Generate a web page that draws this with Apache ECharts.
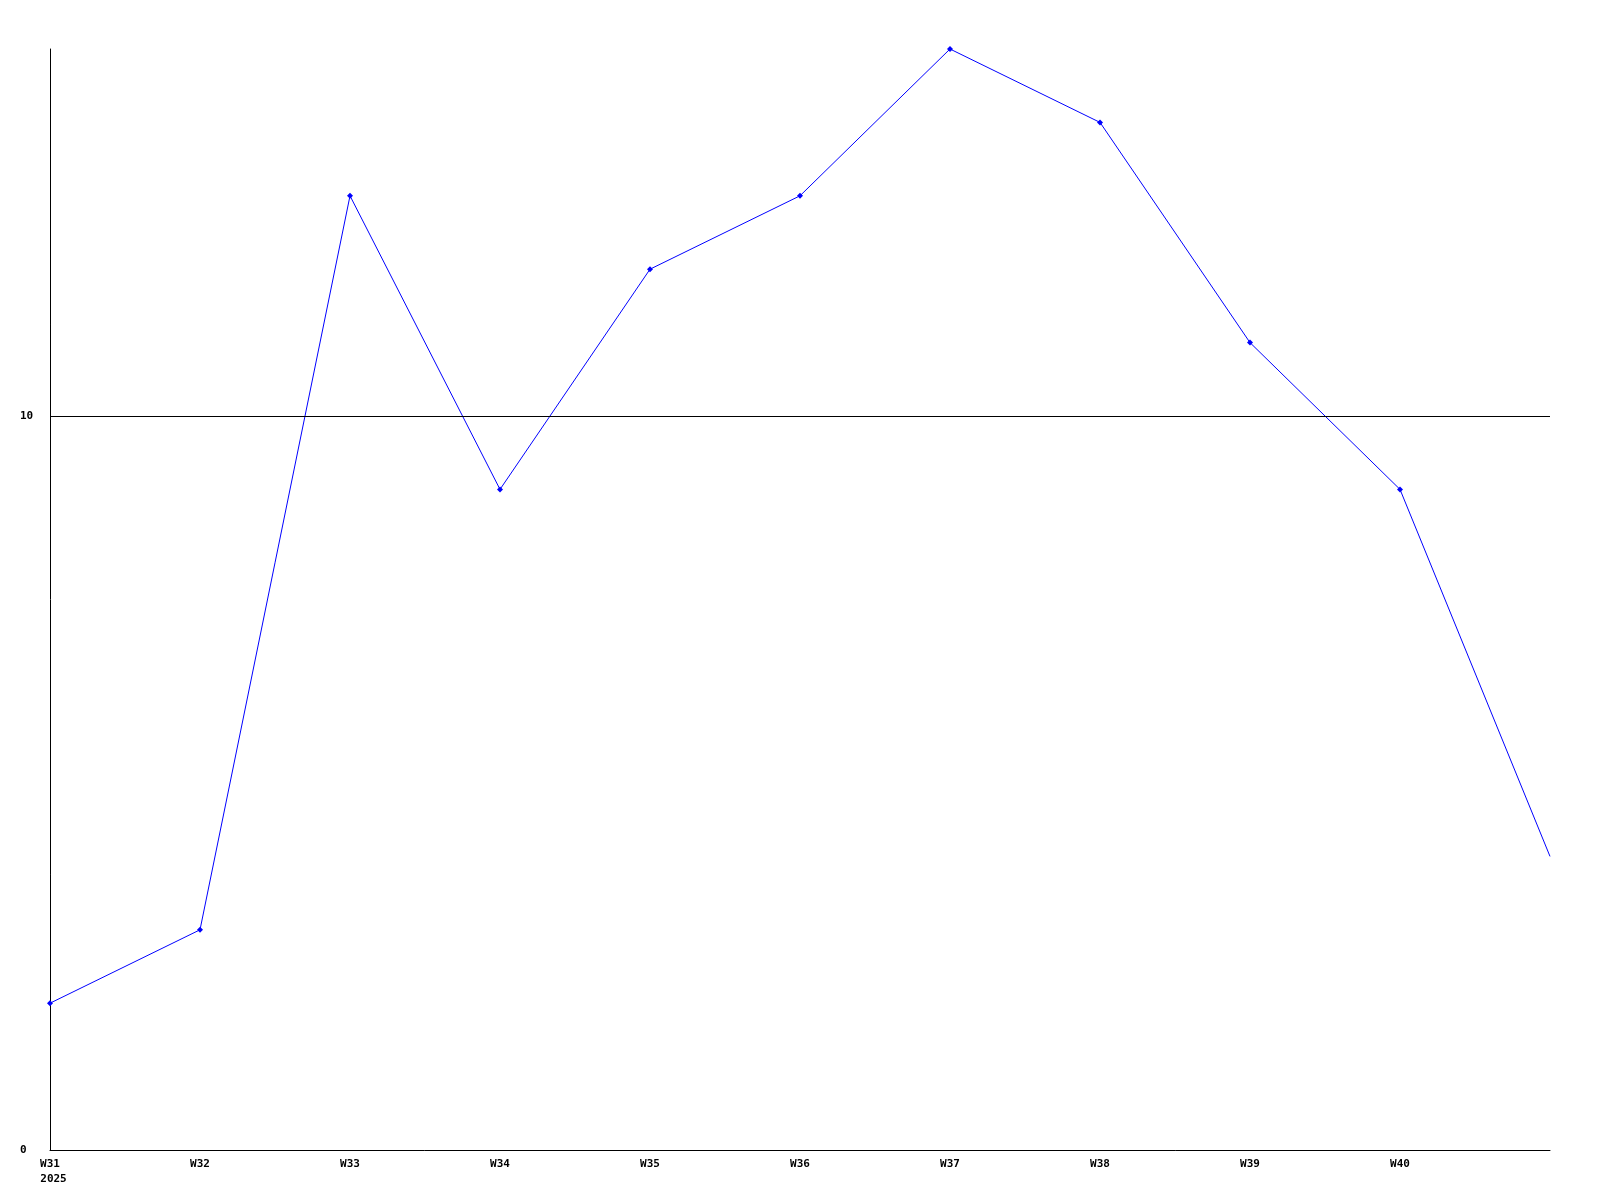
<!DOCTYPE html>
<html>
<head>
<meta charset="utf-8">
<script src="https://cdn.jsdelivr.net/npm/echarts@6/dist/echarts.min.js"></script>
<style>html,body{margin:0;padding:0;background:#fff}#c{width:1600px;height:1200px}</style>
</head>
<body>
<div id="c"></div>
<script>
var categories = ['W31','W32','W33','W34','W35','W36','W37','W38','W39','W40','W41'];
var tickLabels = ['{a|W31}\n{b|2025}','W32','W33','W34','W35','W36','W37','W38','W39','W40',''];
var values = [2,3,13,9,12,13,15,14,11,9,4];
var yTicks = [0,10];

var chart = echarts.init(document.getElementById('c'));
var font = '"DejaVu Sans Mono", monospace';
chart.setOption({
  animation: false,
  backgroundColor: '#fff',
  grid: {left: 50, right: 50, top: 49, bottom: 50, containLabel: false},
  xAxis: {
    type: 'category',
    data: categories,
    boundaryGap: false,
    axisLine: {lineStyle: {color: '#000', width: 1}},
    axisTick: {show: false},
    splitLine: {show: false},
    axisLabel: {
      interval: 0, margin: 7, color: '#000', fontFamily: font, fontWeight: 'bold', fontSize: 11, lineHeight: 15,
      formatter: function (v, i) { return tickLabels[i]; },
      rich: {
        a: {fontFamily: font, fontWeight: 'bold', fontSize: 11, lineHeight: 15, color: '#000'},
        b: {fontFamily: font, fontWeight: 'bold', fontSize: 11, lineHeight: 15, color: '#000', padding: [0, 0, 0, 7]}
      }
    }
  },
  yAxis: {
    type: 'value', min: 0, max: 15, interval: 10,
    axisLine: {show: true, lineStyle: {color: '#000', width: 1}},
    axisTick: {show: false},
    splitLine: {show: false},
    axisLabel: {
      align: 'left', margin: 30, color: '#000', fontFamily: font, fontWeight: 'bold', fontSize: 11,
      formatter: function (v) { return yTicks.indexOf(v) >= 0 ? String(v) : ''; }
    }
  },
  series: [{
    type: 'line',
    data: values.map(function (v, i) { return i === values.length - 1 ? {value: v, symbol: 'none'} : v; }),
    symbol: 'diamond', symbolSize: 6, showAllSymbol: true,
    lineStyle: {color: '#0000ff', width: 1},
    itemStyle: {color: '#0000ff'},
    markLine: {
      silent: true, symbol: 'none', label: {show: false},
      lineStyle: {color: '#000', width: 1, type: 'solid'},
      data: [{yAxis: 10}]
    }
  }]
});
</script>
</body>
</html>
